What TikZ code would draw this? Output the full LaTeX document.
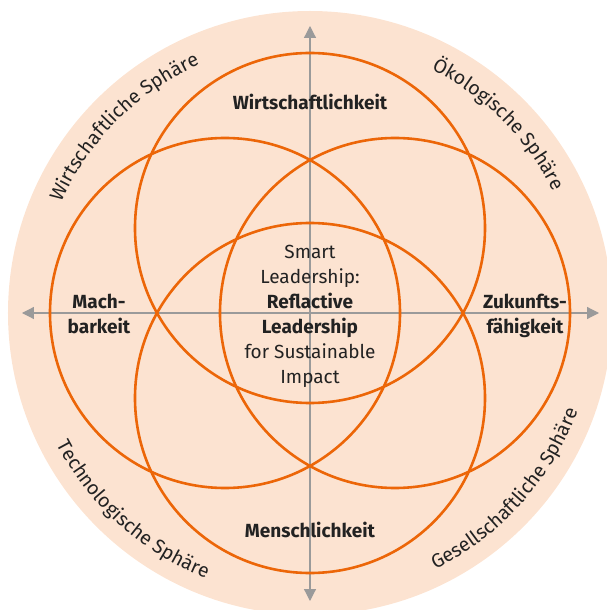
\documentclass[tikz,border=0pt]{standalone}
\usepackage{fontspec}
\setmainfont{Fira Sans}
\usetikzlibrary{arrows.meta}
\usetikzlibrary{decorations.text}
\definecolor{peach}{HTML}{FCE3D1}
\definecolor{ringorange}{HTML}{EC6608}
\definecolor{axisgray}{HTML}{9A9A9A}
\definecolor{txt}{HTML}{222222}
% sphere label along the outer circle: radius, start angle, end angle, text
\newcommand{\spherelabel}[4]{\path[decorate,decoration={text along path,text align=center,
    text color=txt,text={|\fontsize{19.5}{22}\selectfont|#4}}]
    (#2:#1) arc[start angle=#2,end angle=#3,radius=#1]}

\begin{document}
\begin{tikzpicture}[
        x=1pt, y=1pt,
        >={Triangle[length=12pt,width=12pt]},
        every node/.style={font=\fontsize{19}{25}\selectfont,text=txt,align=center},
        ring/.style={draw=ringorange,line width=2.6pt},
        axis/.style={draw=axisgray,line width=1.2pt,<->},
        field/.style={font=\fontsize{19}{25}\selectfont\bfseries}
      ]
      \useasboundingbox (-310,-297) rectangle (297,313);
      \clip (-310,-297) rectangle (297,313);
      \fill[peach] (0,0) circle[radius=302];
      % axes
      \coordinate (west) at (-288,0);
      \coordinate (east) at (289,0);
      \coordinate (north) at (0,287);
      \coordinate (south) at (0,-288);
      \draw[axis] (west) -- (east);
      \draw[axis] (south) -- (north);
      % the four rings
      \foreach \a in {0,90,180,270}
        \draw[ring] (\a:85) circle[radius=175];
      % fields
      \node (wirt) [field,anchor=base] at (0,203) {Wirtschaftlichkeit};
      \node (mensch) [field,anchor=base] at (0,-224) {Menschlichkeit};
      \node (mach) [field] at (-211,-1) {Mach-\\barkeit};
      \node (zukunft) [field] at (215,-3) {Zukunfts-\\fähigkeit};
      \node (smart) at (0,-3) {Smart\\Leadership:\\\textbf{Reflactive}\\\textbf{Leadership}\\for Sustainable\\Impact};
      % spheres
      \spherelabel{272}{180}{90}{Wirtschaftliche Sphäre};
      \spherelabel{272}{90}{0}{Ökologische Sphäre};
      \spherelabel{285}{183}{273}{Technologische Sphäre};
      \spherelabel{285}{273}{363}{Gesellschaftliche Sphäre};
    \end{tikzpicture}
\end{document}
